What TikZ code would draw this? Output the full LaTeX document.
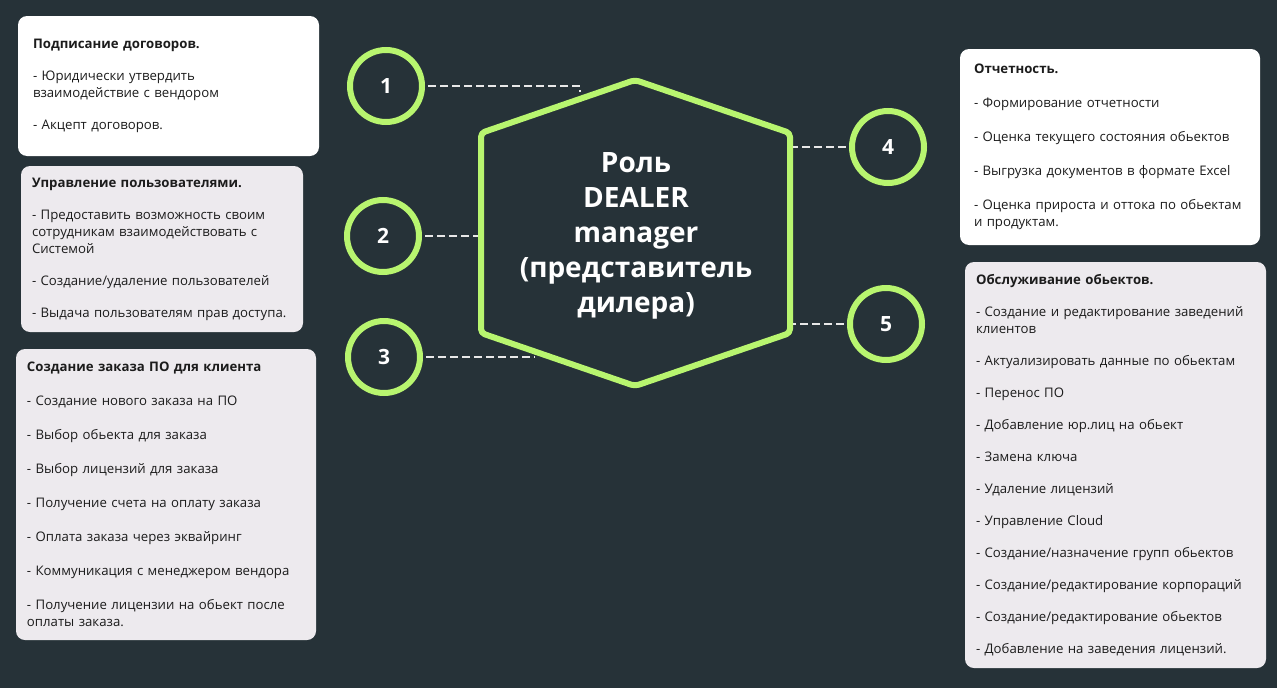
\documentclass[tikz,border=0pt]{standalone}
\usepackage{fontspec}
\setmainfont{Open Sans}
\usetikzlibrary{positioning}
\definecolor{bgslate}{HTML}{263238}
\definecolor{lime}{HTML}{B8F56F}
\definecolor{cardgray}{HTML}{EDEAEE}
\definecolor{ink}{HTML}{1C1C1C}
\definecolor{dashwhite}{HTML}{E8E8E8}

\begin{document}
\begin{tikzpicture}[x=1pt, y=-1pt,
  num/.style={circle, draw=lime, line width=6pt, fill=bgslate, minimum size=72pt, inner sep=0pt, text=white, font=\fontsize{21}{21}\selectfont\bfseries},
  card/.style={rounded corners=9pt, inner ysep=0pt, align=left, text=ink, font=\fontsize{13.2}{17}\selectfont},
  role/.style={align=center, text=white, font=\fontsize{28}{35}\selectfont\bfseries},
  hexa/.style={draw=lime, line width=6pt, rounded corners=4pt, line join=round},
  link/.style={draw=dashwhite, line width=1.8pt, dash pattern=on 8pt off 4pt, shorten <=3pt, shorten >=3pt}]
  \fill[bgslate] (0,0) rectangle (1277,688);
  \useasboundingbox (0,0) rectangle (1277,688);

  \coordinate (top) at (635,80);
  \coordinate (tr)  at (790,133);
  \coordinate (br)  at (790,333);
  \coordinate (bot) at (635,386);
  \coordinate (bl)  at (481,333);
  \coordinate (tl)  at (481,133);
  \draw[hexa] (top) -- (tr) -- (br) -- (bot) -- (bl) -- (tl) -- cycle;
  \node[role] (role) at (636,236) {Роль\\DEALER\\manager\\(представитель\\дилера)};

  \node[num] (n1) at (386,86)  {1};
  \node[num] (n2) at (383,236) {2};
  \node[num] (n3) at (384,357) {3};
  \node[num] (n4) at (888,147) {4};
  \node[num] (n5) at (886,324) {5};

  \coordinate (e1) at (580,92);
  \coordinate (e3) at (535,357);

  \draw[link, shorten >=0pt] (n1) -| (e1);
  \draw[link] (n2) -- (n2 -| tl);
  \draw[link, shorten >=0pt] (n3) -- (e3);
  \draw[link] (n4) -- (n4 -| tr);
  \draw[link] (n5) -- (n5 -| tr);

  \node[card, fill=white, inner xsep=15pt, minimum width=301pt, minimum height=140pt, text width=271pt] (b1) at (168.5,86)
    {\textbf{Подписание договоров.}\\[15pt]
     - Юридически утвердить\\взаимодействие с вендором\\[15pt]
     - Акцепт договоров.};
  \node[card, fill=cardgray, inner xsep=11pt, minimum width=282pt, minimum height=166pt, text width=260pt] (b2) at (162,249)
    {\textbf{Управление пользователями.}\\[15pt]
     - Предоставить возможность своим\\сотрудникам взаимодействовать с\\Системой\\[15pt]
     - Создание/удаление пользователей\\[15pt]
     - Выдача пользователям прав доступа.};
  \node[card, fill=cardgray, inner xsep=11pt, minimum width=300pt, minimum height=291pt, text width=278pt] (b3) at (166,494.5)
    {\textbf{Создание заказа ПО для клиента}\\[17pt]
     - Создание нового заказа на ПО\\[17pt]
     - Выбор обьекта для заказа\\[17pt]
     - Выбор лицензий для заказа\\[17pt]
     - Получение счета на оплату заказа\\[17pt]
     - Оплата заказа через эквайринг\\[17pt]
     - Коммуникация с менеджером вендора\\[17pt]
     - Получение лицензии на обьект после\\оплаты заказа.};
  \node[card, fill=white, inner xsep=14pt, minimum width=300pt, minimum height=196pt, text width=272pt] (b4) at (1110,147)
    {\textbf{Отчетность.}\\[17pt]
     - Формирование отчетности\\[17pt]
     - Оценка текущего состояния обьектов\\[17pt]
     - Выгрузка документов в формате Excel\\[17pt]
     - Оценка прироста и оттока по обьектам\\и продуктам.};
  \node[card, fill=cardgray, inner xsep=11pt, minimum width=301pt, minimum height=406pt, text width=279pt] (b5) at (1115.5,465)
    {\textbf{Обслуживание обьектов.}\\[15pt]
     - Создание и редактирование заведений\\клиентов\\[15pt]
     - Актуализировать данные по обьектам\\[15pt]
     - Перенос ПО\\[15pt]
     - Добавление юр.лиц на обьект\\[15pt]
     - Замена ключа\\[15pt]
     - Удаление лицензий\\[15pt]
     - Управление Cloud\\[15pt]
     - Создание/назначение групп обьектов\\[15pt]
     - Создание/редактирование корпораций\\[15pt]
     - Создание/редактирование обьектов\\[15pt]
     - Добавление на заведения лицензий.};
\end{tikzpicture}
\end{document}
